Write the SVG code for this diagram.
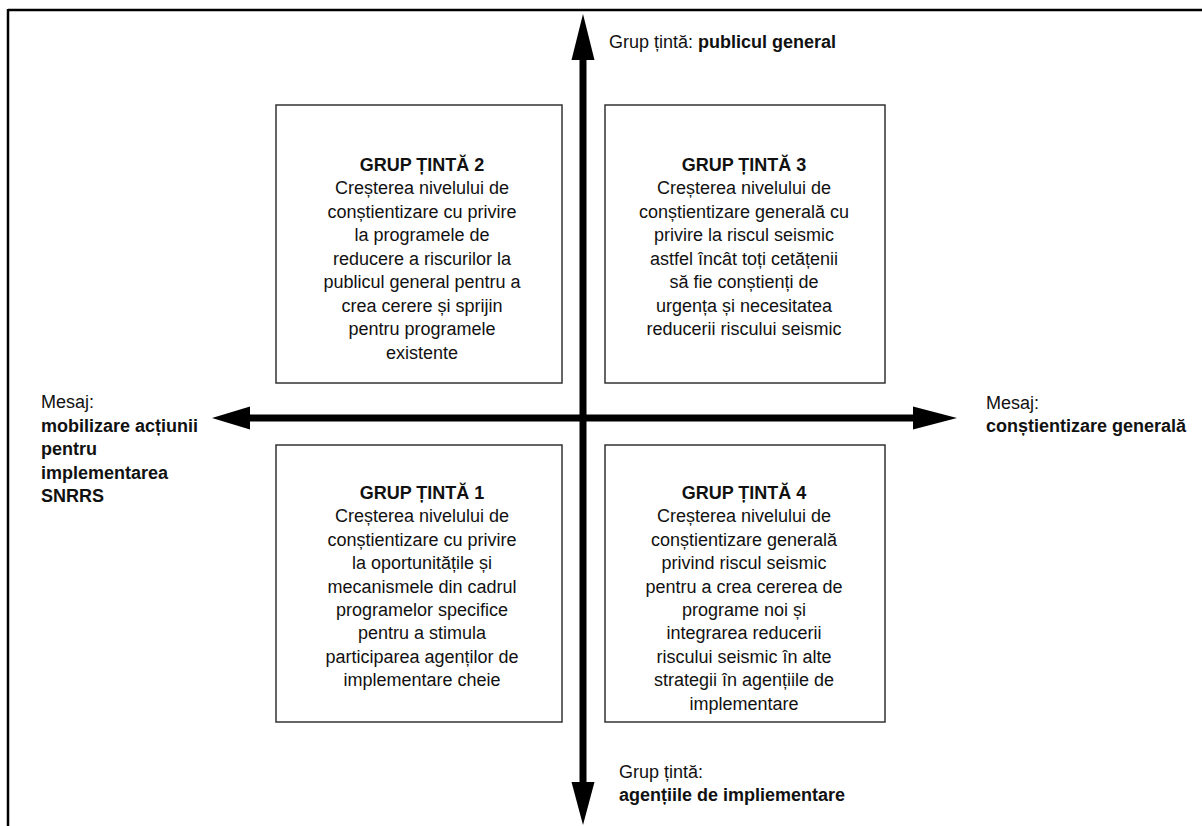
<svg xmlns="http://www.w3.org/2000/svg" width="1202" height="826" viewBox="0 0 1202 826">
<style>
  .frame { stroke: #000; stroke-width: 2.5; fill: none; }
  .box { fill: #fff; stroke: #333; stroke-width: 1.5; }
  .axis { stroke: #000; stroke-width: 7; fill: none; }
  .head { fill: #000; }
  text { font-family: "Liberation Sans", Arial, sans-serif; font-size: 18px; fill: #111; }
  .c { text-anchor: middle; }
  .b { font-weight: bold; }
</style>
<rect width="1202" height="826" fill="#fff"/>
<g id="frame">
  <line class="frame" x1="8" y1="10" x2="1202" y2="10"/>
  <line class="frame" x1="8" y1="9" x2="8" y2="826"/>
</g>
<g id="connectors">
  <line class="axis" x1="583" y1="55" x2="583" y2="785"/>
  <polygon class="head" points="583,14 571.5,60 594.5,60"/>
  <polygon class="head" points="583,825 571.5,782 594.5,782"/>
  <line class="axis" x1="245" y1="418" x2="918" y2="418"/>
  <polygon class="head" points="212,418 250,406.5 250,429.5"/>
  <polygon class="head" points="957,418 913,406.5 913,429.5"/>
</g>
<g id="label-top">
  <text x="609" y="48">Grup țintă: <tspan class="b">publicul general</tspan></text>
</g>
<g id="label-bottom">
  <text x="619" y="778">Grup țintă:</text>
  <text x="619" y="801" class="b">agențiile de impliementare</text>
</g>
<g id="label-left">
  <text x="41" y="408">Mesaj:</text>
  <text x="41" y="431.5" class="b">mobilizare acțiunii</text>
  <text x="41" y="455" class="b">pentru</text>
  <text x="41" y="478.5" class="b">implementarea</text>
  <text x="41" y="502" class="b">SNRRS</text>
</g>
<g id="label-right">
  <text x="986" y="408.5">Mesaj:</text>
  <text x="986" y="432" class="b">conștientizare generală</text>
</g>
<g id="grup2">
  <rect class="box" x="276" y="105" width="286" height="278"/>
  <text class="c b" x="422" y="170.5">GRUP ȚINTĂ 2</text>
  <text class="c" x="422" y="194">Creșterea nivelului de</text>
  <text class="c" x="422" y="217.5">conștientizare cu privire</text>
  <text class="c" x="422" y="241">la programele de</text>
  <text class="c" x="422" y="264.5">reducere a riscurilor la</text>
  <text class="c" x="422" y="288">publicul general pentru a</text>
  <text class="c" x="422" y="311.5">crea cerere și sprijin</text>
  <text class="c" x="422" y="335">pentru programele</text>
  <text class="c" x="422" y="358.5">existente</text>
</g>
<g id="grup3">
  <rect class="box" x="605" y="105" width="280" height="278"/>
  <text class="c b" x="744" y="170.5">GRUP ȚINTĂ 3</text>
  <text class="c" x="744" y="194">Creșterea nivelului de</text>
  <text class="c" x="744" y="217.5">conștientizare generală cu</text>
  <text class="c" x="744" y="241">privire la riscul seismic</text>
  <text class="c" x="744" y="264.5">astfel încât toți cetățenii</text>
  <text class="c" x="744" y="288">să fie conștienți de</text>
  <text class="c" x="744" y="311.5">urgența și necesitatea</text>
  <text class="c" x="744" y="335">reducerii riscului seismic</text>
</g>
<g id="grup1">
  <rect class="box" x="276" y="445" width="286" height="277"/>
  <text class="c b" x="422" y="499">GRUP ȚINTĂ 1</text>
  <text class="c" x="422" y="522.4">Creșterea nivelului de</text>
  <text class="c" x="422" y="545.8">conștientizare cu privire</text>
  <text class="c" x="422" y="569.2">la oportunitățile și</text>
  <text class="c" x="422" y="592.6">mecanismele din cadrul</text>
  <text class="c" x="422" y="616">programelor specifice</text>
  <text class="c" x="422" y="639.4">pentru a stimula</text>
  <text class="c" x="422" y="662.8">participarea agenților de</text>
  <text class="c" x="422" y="686.2">implementare cheie</text>
</g>
<g id="grup4">
  <rect class="box" x="605" y="445" width="280" height="277"/>
  <text class="c b" x="744" y="499">GRUP ȚINTĂ 4</text>
  <text class="c" x="744" y="522.4">Creșterea nivelului de</text>
  <text class="c" x="744" y="545.8">conștientizare generală</text>
  <text class="c" x="744" y="569.2">privind riscul seismic</text>
  <text class="c" x="744" y="592.6">pentru a crea cererea de</text>
  <text class="c" x="744" y="616">programe noi și</text>
  <text class="c" x="744" y="639.4">integrarea reducerii</text>
  <text class="c" x="744" y="662.8">riscului seismic în alte</text>
  <text class="c" x="744" y="686.2">strategii în agențiile de</text>
  <text class="c" x="744" y="709.6">implementare</text>
</g>
</svg>
